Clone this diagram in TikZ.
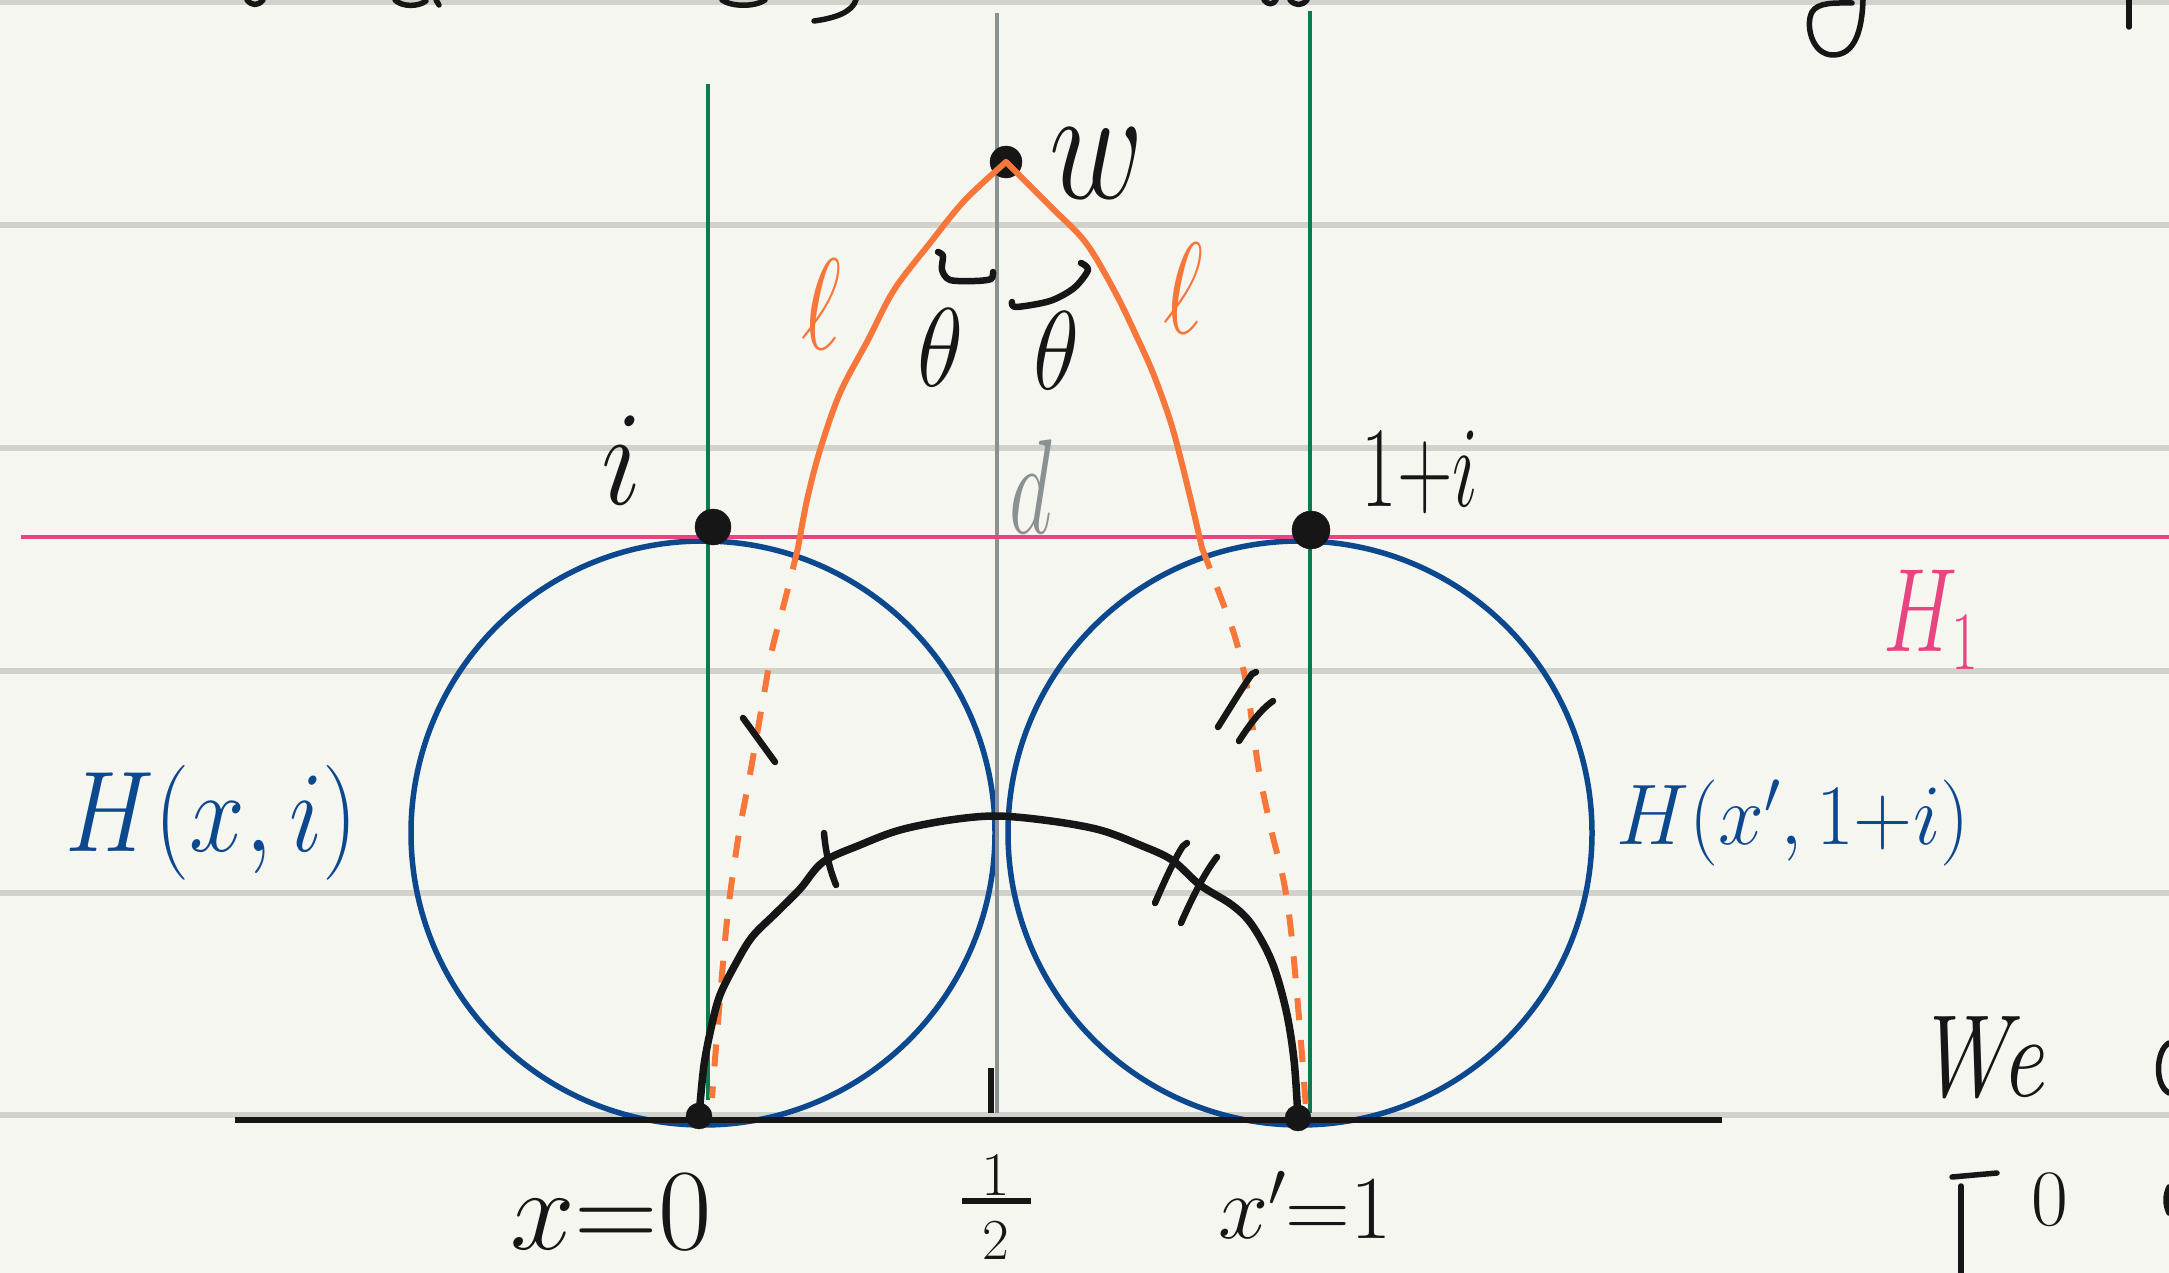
\RequirePackage{fix-cm}
\documentclass[tikz,border=0pt]{standalone}
\usepackage{amsmath}
\definecolor{paper}{RGB}{246,246,241}
\definecolor{rulegray}{RGB}{210,210,204}
\definecolor{hblue}{RGB}{12,72,142}
\definecolor{hgreen}{RGB}{14,122,82}
\definecolor{hpink}{RGB}{232,68,128}
\definecolor{horange}{RGB}{247,118,58}
\definecolor{hgray}{RGB}{138,145,145}
\definecolor{ink}{RGB}{22,22,22}
\newcommand{\hwtxt}[4]{\scalebox{#2}[#3]{\fontsize{#1}{#1}\selectfont #4}}
\begin{document}
\begin{tikzpicture}[x=1pt,y=-1pt,
  ruleline/.style={rulegray, line width=6pt},
  geodcircle/.style={hblue, line width=5.5pt},
  vgreen/.style={hgreen, line width=4.5pt},
  vgray/.style={hgray, line width=4.5pt},
  horo/.style={hpink, line width=4.5pt},
  axisline/.style={ink, line width=6pt},
  orsolid/.style={horange, line width=6pt, line cap=round, line join=round},
  ordashed/.style={horange, line width=6pt, dash pattern=on 22pt off 20pt},
  inkstroke/.style={ink, line width=6.5pt, line cap=round, line join=round},
  thinink/.style={ink, line width=5.5pt, line cap=round, line join=round},
  lbl/.style={inner sep=0pt, outer sep=0pt},
  ptdot/.style={circle, fill=ink, draw=ink, inner sep=0pt, minimum size=#1},
]
% page
\fill[paper] (0,0) rectangle (2169,1273);
\useasboundingbox (0,0) rectangle (2169,1273);
% ruled paper lines
\foreach \yy in {2,225,448,671,893,1115}
  \draw[ruleline] (0,\yy) -- (2169,\yy);
% cut-off handwriting of the line above
\draw[thinink] (247,0) .. controls (252,6) and (258,6) .. (263,0);
\draw[thinink] (395,0) .. controls (402,7) and (418,7) .. (426,1);
\draw[thinink] (436,0) -- (439,5);
\draw[thinink] (722,0) .. controls (732,7) and (755,7) .. (765,0);
\draw[thinink] (856,0) .. controls (852,12) and (836,18) .. (814,21);
\draw[thinink] (1264,0) .. controls (1268,5) and (1273,5) .. (1276,0);
\draw[thinink] (1290,0) .. controls (1295,6) and (1302,6) .. (1307,0);
\draw[thinink] (1863,0) .. controls (1862,30) and (1855,55) .. (1833,55)
   .. controls (1812,55) and (1805,25) .. (1812,12)
   .. controls (1818,2) and (1835,3) .. (1852,3);
\draw[thinink] (2129,0) -- (2129,27);
% geodesic circles
\draw[geodcircle] (703,833) circle[radius=292];
\draw[geodcircle] (1300,833) circle[radius=292];
% vertical lines
\draw[vgreen] (708,84) -- (708,1100);
\draw[vgreen] (1310,11) -- (1310,1113);
\draw[vgray] (997,13) -- (997,1113);
% horocycle H_1
\draw[horo] (21,537) -- (2169,537);
% real axis
\coordinate (axl) at (235,1120);
\coordinate (axr) at (1722,1120);
\draw[axisline] (axl) -- (axr);
\draw[ink, line width=5.5pt] (991,1068) -- (991,1113);
% points
\node[ptdot=32pt] (w) at (1006,162) {};
\node[ptdot=36pt] (pi) at (713,527) {};
\node[ptdot=38pt] (p1i) at (1311,530) {};
\node[ptdot=26pt] (x0) at (699,1116) {};
\node[ptdot=26pt] (x1) at (1298,1118) {};
% orange geodesic segments from w
\coordinate (lcross) at (798,548);
\coordinate (rcross) at (1202,548);
\draw[orsolid] plot[smooth, tension=0.55] coordinates {(w.center) (965,200) (930,243) (894,290) (868,340) (840,393) (820,450) (807,500) (lcross)};
\draw[orsolid] plot[smooth, tension=0.55] coordinates {(w.center) (1051,207) (1086,243) (1115,292) (1135,333) (1153,373) (1170,420) (1181,460) (1192,505) (rcross)};
\draw[ordashed] plot[smooth, tension=0.55] coordinates {(lcross) (785,600) (772,650) (763,700) (749,780) (740,827) (733,873) (727,920) (719,1010) (712,1098)};
\draw[ordashed] plot[smooth, tension=0.55] coordinates {(rcross) (1218,590) (1235,637) (1247,687) (1253,730) (1260,777) (1272,833) (1282,873) (1288,907) (1293,950) (1300,1030) (1306,1108)};
% black geodesic from x to x'
\draw[inkstroke, line width=7.5pt] plot[smooth, tension=0.55] coordinates {(x0.center) (704,1065) (712,1024) (720,995) (735,965) (752,937) (776,913) (800,889) (823,862) (860,845) (900,830) (950,820) (997,816) (1051,821) (1100,830) (1140,845) (1172,860) (1200,885) (1232,905) (1252,925) (1272,962) (1286,1010) (1294,1060) (x1.center)};
% tick marks
\draw[inkstroke] (743,718) -- (775,762);
\draw[inkstroke] (824,833) .. controls (826,855) and (830,870) .. (836,885);
\draw[inkstroke] (1218,727) .. controls (1230,708) and (1242,688) .. (1252,674) -- (1256,672);
\draw[inkstroke] (1239,741) .. controls (1248,727) and (1260,710) .. (1273,701);
\draw[inkstroke] (1155,903) .. controls (1165,880) and (1175,858) .. (1183,846) -- (1187,843);
\draw[inkstroke] (1181,923) .. controls (1192,898) and (1205,872) .. (1217,857);
% angle marks at w
\draw[inkstroke] plot[smooth, tension=0.5] coordinates {(938,252) (943,256) (942,270) (950,280) (975,281) (991,279) (993,272)};
\draw[inkstroke] plot[smooth, tension=0.5] coordinates {(1012,302) (1016,307) (1050,301) (1074,288) (1088,270) (1081,263)};
% labels
\node[lbl, text=ink] (wlab) at (1097,164) {\hwtxt{130}{1}{1.25}{$w$}};
\node[lbl, text=ink] (thl) at (941,348) {\hwtxt{112}{0.85}{1}{$\theta$}};
\node[lbl, text=ink] (thr) at (1057,351) {\hwtxt{112}{0.85}{1}{$\theta$}};
\node[lbl, text=horange] (ell) at (822,304) {\hwtxt{130}{0.75}{1}{$\ell$}};
\node[lbl, text=horange] (elr) at (1184,288) {\hwtxt{130}{0.75}{1}{$\ell$}};
\node[lbl, text=hgray] (dlab) at (1031,487) {\hwtxt{135}{0.62}{1}{$d$}};
\node[lbl, text=ink] (ilab) at (622,460) {\hwtxt{135}{0.9}{1}{$i$}};
\node[lbl, text=ink] (oneilab) at (1420,472) {\hwtxt{115}{0.67}{1}{$1{+}i$}};
\node[lbl, text=hpink] (hlab) at (1931,620) {\hwtxt{119}{0.7}{1}{$H_1$}};
\node[lbl, text=hblue] (hxi) at (212,823) {\hwtxt{100}{1}{1.15}{$H(x,i)$}};
\node[lbl, text=hblue] (hx1i) at (1793,823) {\hwtxt{82}{1}{1.05}{$H(x',1{+}i)$}};
\node[lbl, text=ink] (x0lab) at (611,1212) {\hwtxt{116}{1}{1}{$x{=}0$}};
\node[lbl, text=ink] (halfnum) at (996,1176) {\hwtxt{62}{1}{1}{$1$}};
\draw[ink, line width=5.5pt] (962,1201) -- (1031,1201);
\node[lbl, text=ink] (halfden) at (996,1241) {\hwtxt{58}{1}{1}{$2$}};
\node[lbl, text=ink] (x1lab) at (1305,1205) {\hwtxt{90}{1}{1}{$x'{=}1$}};
% text of the next lines (cut off at the right and bottom)
\node[lbl, text=ink] (welab) at (1979,1058) {\hwtxt{117}{0.82}{1}{\itshape We}};
\draw[thinink] (2169,1043) .. controls (2156,1050) and (2154,1085) .. (2169,1093);
\draw[thinink] (1952,1177) -- (1997,1173);
\draw[thinink] (1961,1186) -- (1961,1273);
\node[lbl, text=ink] (zerolab) at (2050,1200) {\hwtxt{80}{1}{1}{$0$}};
\draw[thinink] (2169,1187) .. controls (2165,1195) and (2165,1205) .. (2169,1213);
\end{tikzpicture}
\end{document}
